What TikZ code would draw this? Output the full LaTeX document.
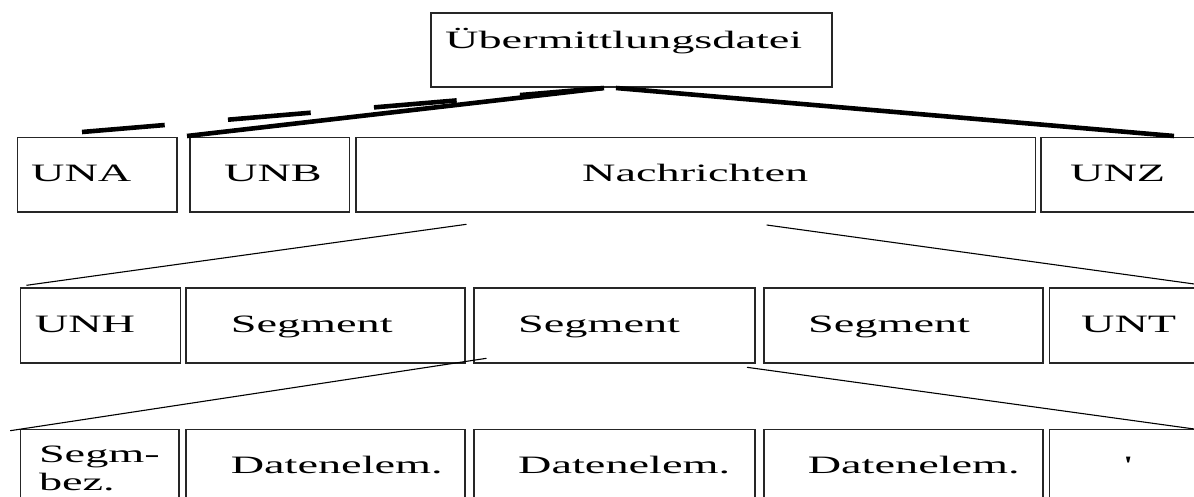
\documentclass[tikz,border=0pt]{standalone}
\usepackage{fontspec}
\setmainfont{Liberation Serif}[FakeStretch=1.85]
\begin{document}
\begin{tikzpicture}[x=1pt,y=-1pt,
  box/.style={draw=black!85, line width=1.5pt, anchor=north west, inner sep=0pt, outer sep=0pt},
  txt/.style={anchor=base west, inner sep=0pt, font=\fontsize{25}{28}\selectfont},
  heavy/.style={line width=4.6pt},
  heavydash/.style={line width=4.6pt, dash pattern=on 83pt off 63.5pt},
  light/.style={line width=1.1pt}]
\useasboundingbox (0,0) rectangle (1194,497);
% top
\node[box, minimum width=401pt, minimum height=74pt] (top) at (431,13) {};
\node[txt] (ttop) at (445,49) {Übermittlungsdatei};
% row 1
\node[box, minimum width=159.4pt, minimum height=74.7pt] (una) at (17.6,137.3) {};
\node[box, minimum width=159.5pt, minimum height=74.7pt] (unb) at (190,137.3) {};
\node[box, minimum width=679.5pt, minimum height=74.7pt] (nach) at (356,137.3) {};
\node[box, minimum width=170pt, minimum height=74.7pt] (unz) at (1041,137.3) {};
\node[txt] (tuna) at (31,182) {UNA};
\node[txt] (tunb) at (224,182) {UNB};
\node[txt] (tnach) at (582,182) {Nachrichten};
\node[txt] (tunz) at (1070,182) {UNZ};
% row 2
\node[box, minimum width=160pt, minimum height=75pt] (unh) at (20.4,288) {};
\node[box, minimum width=279pt, minimum height=75pt] (seg1) at (186,288) {};
\node[box, minimum width=281pt, minimum height=75pt] (seg2) at (474,288) {};
\node[box, minimum width=279pt, minimum height=75pt] (seg3) at (764,288) {};
\node[box, minimum width=170pt, minimum height=75pt] (unt) at (1049.5,288) {};
\node[txt] (tunh) at (34.7,332) {UNH};
\node[txt] (tseg1) at (230.6,332) {Segment};
\node[txt] (tseg2) at (518,332) {Segment};
\node[txt] (tseg3) at (808,332) {Segment};
\node[txt] (tunt) at (1081,332) {UNT};
% row 3
\node[box, minimum width=158.4pt, minimum height=90pt] (sbez) at (20.4,429.3) {};
\node[box, minimum width=279pt, minimum height=90pt] (de1) at (186,429.3) {};
\node[box, minimum width=281pt, minimum height=90pt] (de2) at (474,429.3) {};
\node[box, minimum width=279pt, minimum height=90pt] (de3) at (764,429.3) {};
\node[box, minimum width=170pt, minimum height=90pt] (apo) at (1049.5,429.3) {};
\node[txt] (tsegm) at (38.8,462) {Segm-};
\node[txt] (tbez) at (38.8,490) {bez.};
\node[txt] (tde1) at (230.6,473.3) {Datenelem.};
\node[txt] (tde2) at (518,473.3) {Datenelem.};
\node[txt] (tde3) at (807.6,473.3) {Datenelem.};
\node[txt] (tapo) at (1124,473.3) {\textquotesingle};
% connector ends
\coordinate (a1) at (82,132);
\coordinate (a2) at (604,88);
\coordinate (b1) at (187,136);
\coordinate (c1) at (616,88);
\coordinate (c2) at (1174,136);
\coordinate (d1) at (466.5,224.3);
\coordinate (d2) at (26.5,285.3);
\coordinate (e1) at (766.7,225);
\coordinate (e2) at (1200,284.8);
\coordinate (f1) at (486.5,358.3);
\coordinate (f2) at (10.2,430.7);
\coordinate (g1) at (747,367.3);
\coordinate (g2) at (1200,429.8);
\draw[heavydash] (a1) -- (a2);
\draw[heavy] (b1) -- (a2);
\draw[heavy] (c1) -- (c2);
\draw[light] (d1) -- (d2);
\draw[light] (e1) -- (e2);
\draw[light] (f1) -- (f2);
\draw[light] (g1) -- (g2);
\end{tikzpicture}
\end{document}
